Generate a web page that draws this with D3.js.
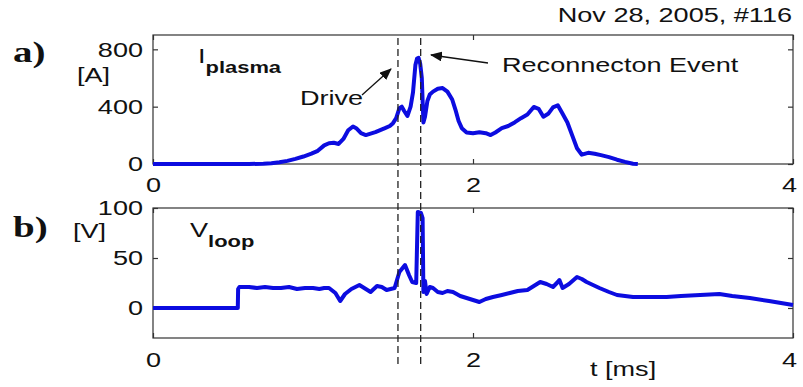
<!DOCTYPE html>
<html>
<head>
<meta charset="utf-8">
<script src="https://cdn.jsdelivr.net/npm/d3@7"></script>
<style>
  html, body { margin: 0; padding: 0; background: #fff; }
  svg { display: block; }
  text { font-family: "Liberation Sans", Arial, sans-serif; fill: #111; }
</style>
</head>
<body>
<svg id="chart" width="803" height="387"></svg>
<script>
// Shot #116, Nov 28, 2005: plasma current and loop voltage vs time [ms]
const timeTicks = [0, 2, 4];
const currentTicks = [0, 400, 800];
const voltageTicks = [0, 50, 100];
const eventTimes = [1.531, 1.673];   // drive onset, reconnection event
const shotLabel = "Nov 28, 2005, #116";

// [t (ms), I (A)]
const plasmaCurrent = [
  [0,0],[0.3,0],[0.6,0],[0.69,2],[0.74,6],[0.79,12],[0.84,22],[0.89,36],[0.94,52],[0.99,72],
  [1.03,92],[1.07,130],[1.10,145],[1.13,148],[1.16,140],[1.19,175],[1.22,235],[1.25,262],[1.27,250],
  [1.30,215],[1.33,202],[1.36,212],[1.39,222],[1.42,236],[1.45,250],[1.48,265],[1.50,285],[1.52,320],
  [1.54,390],[1.555,400],[1.57,370],[1.59,335],[1.61,400],[1.625,500],[1.64,690],[1.65,735],[1.66,740],
  [1.67,700],[1.68,600],[1.69,290],[1.70,330],[1.715,440],[1.73,485],[1.75,505],[1.78,525],[1.81,530],
  [1.84,505],[1.87,450],[1.89,380],[1.91,300],[1.93,250],[1.96,220],[2.00,215],[2.04,222],[2.08,215],
  [2.11,202],[2.14,220],[2.18,250],[2.22,265],[2.26,290],[2.30,320],[2.34,345],[2.38,398],[2.41,385],
  [2.44,330],[2.47,350],[2.50,395],[2.53,410],[2.56,350],[2.59,290],[2.62,200],[2.65,110],[2.68,65],
  [2.72,78],[2.76,72],[2.80,62],[2.85,48],[2.90,30],[2.95,15],[3.0,2],[3.03,0]
];

// [t (ms), V (V)]
const loopVoltage = [
  [0,0],[0.53,0],[0.532,19],[0.54,21],[0.6,21],[0.65,20],[0.7,21],[0.75,20],[0.8,20],[0.85,21],
  [0.9,19],[0.95,20],[1.0,20],[1.04,19],[1.07,20],[1.10,20],[1.14,15],[1.17,7],[1.20,14],[1.24,19],
  [1.29,23],[1.33,19],[1.36,16],[1.40,22],[1.43,21],[1.46,18],[1.51,20],[1.54,36],[1.575,43],
  [1.60,33],[1.62,26],[1.645,25],[1.655,96],[1.675,95],[1.685,90],[1.69,16],[1.70,27],[1.71,14],
  [1.73,21],[1.75,20],[1.78,16],[1.81,15],[1.84,17],[1.875,16],[1.92,12],[1.96,10],[2.00,8],
  [2.04,6],[2.08,9],[2.125,11],[2.18,13],[2.23,15],[2.28,17],[2.34,18],[2.38,22],[2.42,26],
  [2.46,24],[2.50,21],[2.53,26],[2.54,28],[2.56,20],[2.60,24],[2.65,31],[2.68,29],[2.71,26],
  [2.75,23],[2.79,20],[2.85,16],[2.9,13],[3.0,11],[3.1,11],[3.21,11],[3.3,12],[3.42,13],[3.54,14],
  [3.62,12],[3.73,10],[3.85,7],[4.0,3]
];

const SX = 1.29;          // horizontal text stretch
const FS = 21;            // base font size
const LINE = "#0c0ce0";

const svg = d3.select("#chart");

const x = d3.scaleLinear().domain([0, 4]).range([153, 793]);
const yI = d3.scaleLinear().domain([0, 900]).range([164, 35]);
const yV = d3.scaleLinear().domain([-30, 100]).range([338, 208]);

function stretchedText(g, tx, ty, str, opts = {}) {
  const t = g.append("text")
    .attr("transform", `translate(${tx},${ty}) scale(${opts.sx || SX},1)`)
    .attr("font-size", opts.size || FS)
    .attr("text-anchor", opts.anchor || "start");
  if (opts.family) t.style("font-family", opts.family);
  if (opts.weight) t.attr("font-weight", opts.weight);
  t.text(str);
  return t;
}

function panel(y, ticks, labelPadBottom) {
  const g = svg.append("g");
  const [y0, y1] = y.range();
  // frame
  g.append("rect")
    .attr("x", x(0)).attr("y", y1)
    .attr("width", x(4) - x(0)).attr("height", y0 - y1)
    .attr("fill", "none").attr("stroke", "#333").attr("stroke-width", 1.2);

  const ax = (axis, tx, ty) => {
    const a = g.append("g").attr("transform", `translate(${tx},${ty})`).call(axis);
    a.select(".domain").remove();
    a.selectAll("line").attr("stroke", "#333").attr("stroke-width", 1.2);
    return a;
  };

  // inward ticks on all four sides
  const bottom = ax(d3.axisBottom(x).tickValues(timeTicks).tickSize(-5)
    .tickPadding(labelPadBottom).tickFormat(d3.format("d")), 0, y0);
  ax(d3.axisTop(x).tickValues(timeTicks).tickSize(-5).tickFormat(""), 0, y1);
  const left = ax(d3.axisLeft(y).tickValues(ticks).tickSize(-5)
    .tickPadding(10 / SX).tickFormat(d3.format("d")), x(0), 0);
  ax(d3.axisRight(y).tickValues(ticks).tickSize(-5).tickFormat(""), x(4), 0);

  [bottom, left].forEach(a => a.selectAll("text")
    .attr("font-size", FS)
    .style("font-family", '"Liberation Sans", Arial, sans-serif')
    .attr("fill", "#111")
    .attr("transform", `scale(${SX},1)`));
  // last time label sits against the right edge of the page
  bottom.selectAll("text").filter(d => d === 4).attr("x", -4 / SX);
  return g;
}

const gTop = panel(yI, currentTicks, 13);
const gBot = panel(yV, voltageTicks, 14);

// traces
const lineI = d3.line().x(d => x(d[0])).y(d => yI(d[1]));
const lineV = d3.line().x(d => x(d[0])).y(d => yV(d[1]));

gTop.append("path").datum(plasmaCurrent)
  .attr("d", lineI).attr("fill", "none")
  .attr("stroke", LINE).attr("stroke-width", 4).attr("stroke-linejoin", "round");
gBot.append("path").datum(loopVoltage)
  .attr("d", lineV).attr("fill", "none")
  .attr("stroke", LINE).attr("stroke-width", 4).attr("stroke-linejoin", "round");

// event markers spanning both panels
svg.append("g").selectAll("line").data(eventTimes).join("line")
  .attr("x1", d => x(d)).attr("x2", d => x(d))
  .attr("y1", 38).attr("y2", 366)
  .attr("stroke", "#222").attr("stroke-width", 1.3)
  .attr("stroke-dasharray", "7,4");

// arrows
const defs = svg.append("defs");
defs.append("marker")
  .attr("id", "head").attr("viewBox", "0 0 12 10")
  .attr("refX", 11).attr("refY", 5)
  .attr("markerWidth", 12).attr("markerHeight", 10)
  .attr("markerUnits", "userSpaceOnUse")
  .attr("orient", "auto")
  .append("path").attr("d", "M0,0 L12,5 L0,10 Z").attr("fill", "#111");

const arrows = [
  { from: [362, 95], to: [391, 69] },
  { from: [488, 63], to: [431, 55] }
];
svg.append("g").selectAll("line").data(arrows).join("line")
  .attr("x1", d => d.from[0]).attr("y1", d => d.from[1])
  .attr("x2", d => d.to[0]).attr("y2", d => d.to[1])
  .attr("stroke", "#111").attr("stroke-width", 1.3)
  .attr("marker-end", "url(#head)");

// annotations
stretchedText(svg, 792, 22, shotLabel, { anchor: "end" });
stretchedText(svg, 502, 72, "Reconnecton Event");
stretchedText(svg, 300, 105, "Drive");
stretchedText(svg, 77, 82, "[A]");
stretchedText(svg, 73, 238, "[V]");
stretchedText(svg, 590, 376, "t [ms]");

// panel letters
const serif = '"Liberation Serif", "Times New Roman", serif';
stretchedText(svg, 13, 62, "a)", { size: 30, weight: "bold", family: serif, sx: 1.3 });
stretchedText(svg, 13, 237, "b)", { size: 30, weight: "bold", family: serif, sx: 1.3 });

// trace names with subscripts
function subLabel(tx, ty, main, sub) {
  const t = svg.append("text")
    .attr("transform", `translate(${tx},${ty}) scale(${SX},1)`)
    .attr("font-size", FS);
  t.append("tspan").text(main);
  t.append("tspan").attr("dy", 10).attr("font-size", 17).attr("font-weight", "bold").text(sub);
}
subLabel(198, 63, "I", "plasma");
subLabel(190, 237, "V", "loop");
</script>
</body>
</html>
